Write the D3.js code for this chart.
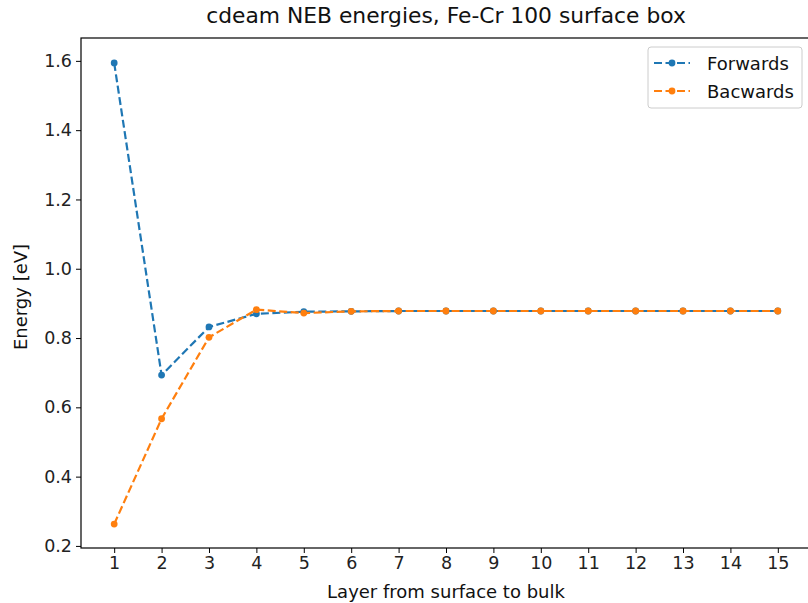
<!DOCTYPE html>
<html>
<head>
<meta charset="utf-8">
<script src="https://cdn.jsdelivr.net/npm/d3@7"></script>
<style>
  html, body { margin: 0; padding: 0; background: #fff; }
  svg { display: block; font-family: "DejaVu Sans", sans-serif; }
</style>
</head>
<body>
<svg id="chart" width="808" height="603"></svg>
<script>
// Layers from the surface into the bulk
const layers = [1, 2, 3, 4, 5, 6, 7, 8, 9, 10, 11, 12, 13, 14, 15];
// NEB barrier energies [eV]
const forwards = [1.594, 0.693, 0.832, 0.870, 0.876, 0.877, 0.878, 0.878, 0.878, 0.878, 0.878, 0.878, 0.878, 0.878, 0.878];
const backwards = [0.263, 0.567, 0.802, 0.882, 0.872, 0.877, 0.878, 0.878, 0.878, 0.878, 0.878, 0.878, 0.878, 0.878, 0.878];
const yTicks = [0.2, 0.4, 0.6, 0.8, 1.0, 1.2, 1.4, 1.6];
const seriesNames = ["Forwards", "Bacwards"];
const seriesColors = ["#1f77b4", "#ff7f0e"];

const svg = d3.select("#chart");
const plot = { left: 81, right: 811, top: 38, bottom: 548 };

const x = d3.scaleLinear().domain([0.3, 15.7]).range([plot.left, plot.right]);
const y = d3.scaleLinear().domain([0.194, 1.666]).range([plot.bottom, plot.top]);

// axes
const xAxis = d3.axisBottom(x).tickValues(layers).tickFormat(d3.format("d")).tickSizeOuter(0).tickSize(5).tickPadding(4);
const yAxis = d3.axisLeft(y).tickValues(yTicks).tickFormat(d3.format(".1f")).tickSizeOuter(0).tickSize(5).tickPadding(4);

const gx = svg.append("g").attr("transform", `translate(0,${plot.bottom})`).call(xAxis);
const gy = svg.append("g").attr("transform", `translate(${plot.left},0)`).call(yAxis);
[gx, gy].forEach(g => {
  g.select(".domain").remove();
  g.selectAll(".tick line").attr("stroke", "#000").attr("stroke-width", 1);
  g.selectAll(".tick text").attr("fill", "#222").style("font-size", "17.5px").style("font-family", "DejaVu Sans");
});

// frame
svg.append("rect")
  .attr("x", plot.left).attr("y", plot.top)
  .attr("width", plot.right - plot.left).attr("height", plot.bottom - plot.top)
  .attr("fill", "none").attr("stroke", "#000").attr("stroke-width", 1.2);

// series
const line = d3.line().x(d => x(d[0])).y(d => y(d[1]));
const series = [forwards, backwards];
series.forEach((vals, i) => {
  const pts = layers.map((l, j) => [l, vals[j]]);
  svg.append("path")
    .attr("d", line(pts))
    .attr("fill", "none")
    .attr("stroke", seriesColors[i])
    .attr("stroke-width", 2.2)
    .attr("stroke-dasharray", "8,3.5");
  svg.append("g").selectAll("circle").data(pts).join("circle")
    .attr("cx", d => x(d[0])).attr("cy", d => y(d[1]))
    .attr("r", 3.4).attr("fill", seriesColors[i]);
});

// title and axis labels
svg.append("text").attr("x", 446).attr("y", 23).attr("text-anchor", "middle")
  .style("font-size", "21.8px").attr("fill", "#111")
  .text("cdeam NEB energies, Fe-Cr 100 surface box");
svg.append("text").attr("x", 446).attr("y", 598).attr("text-anchor", "middle")
  .style("font-size", "18px").attr("fill", "#111")
  .text("Layer from surface to bulk");
svg.append("text").attr("transform", "translate(27,297) rotate(-90)").attr("text-anchor", "middle")
  .style("font-size", "18px").attr("fill", "#111")
  .text("Energy [eV]");

// legend
const lg = svg.append("g");
lg.append("rect").attr("x", 648).attr("y", 47).attr("width", 154).attr("height", 61)
  .attr("rx", 3).attr("fill", "#fff").attr("fill-opacity", 0.8)
  .attr("stroke", "#ccc").attr("stroke-width", 1);
seriesNames.forEach((name, i) => {
  const yy = 63 + i * 28;
  lg.append("line").attr("x1", 654).attr("x2", 690).attr("y1", yy).attr("y2", yy)
    .attr("stroke", seriesColors[i]).attr("stroke-width", 2.2).attr("stroke-dasharray", "8,3.5");
  lg.append("circle").attr("cx", 672).attr("cy", yy).attr("r", 3.4).attr("fill", seriesColors[i]);
  lg.append("text").attr("x", 707).attr("y", yy + 6.5)
    .style("font-size", "18px").attr("fill", "#111").text(name);
});
</script>
</body>
</html>
